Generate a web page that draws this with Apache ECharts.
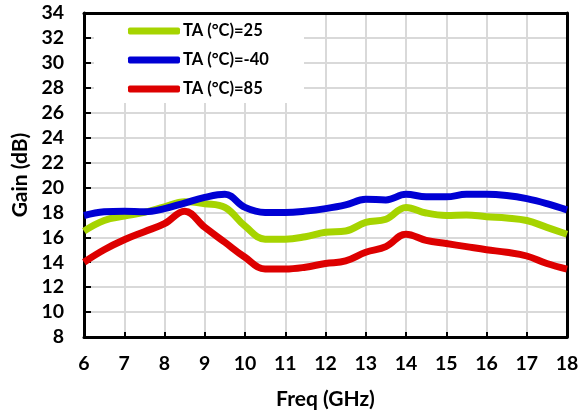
<!DOCTYPE html>
<html>
<head>
<meta charset="utf-8">
<script src="https://cdn.jsdelivr.net/npm/echarts@6/dist/echarts.min.js"></script>
<style>
  html, body { margin: 0; padding: 0; background: #fff; }
  #chart { width: 588px; height: 417px; }
</style>
</head>
<body>
<div id="chart"></div>
<script>
// frequency points (GHz)
const freq = [6, 6.5, 7, 7.5, 8, 8.5, 9, 9.5, 10, 10.5, 11, 11.5, 12, 12.5, 13, 13.5, 14, 14.5, 15, 15.5, 16, 16.5, 17, 17.5, 18];
// gain (dB) per temperature
const gain25 = [16.5, 17.35, 17.7, 18.0, 18.45, 18.85, 18.7, 18.4, 16.9, 15.85, 15.85, 16.05, 16.4, 16.5, 17.2, 17.45, 18.4, 17.95, 17.75, 17.8, 17.65, 17.55, 17.35, 16.8, 16.25];
const gainM40 = [17.75, 18.05, 18.1, 18.05, 18.3, 18.75, 19.2, 19.45, 18.4, 18.0, 18.0, 18.1, 18.3, 18.6, 19.05, 19.0, 19.45, 19.25, 19.25, 19.45, 19.45, 19.35, 19.1, 18.7, 18.2];
const gain85 = [14.0, 15.0, 15.8, 16.45, 17.1, 18.1, 16.8, 15.6, 14.4, 13.45, 13.45, 13.6, 13.9, 14.1, 14.8, 15.25, 16.25, 15.75, 15.5, 15.25, 15.0, 14.8, 14.5, 13.9, 13.45];
const names = ['TA (°C)=25', 'TA (°C)=-40', 'TA (°C)=85'];

const font = 'Lato';
const pairs = arr => freq.map((f, i) => [f, arr[i]]);

const chart = echarts.init(document.getElementById('chart'));

function lineSeries(name, color, data) {
  return {
    name: name,
    type: 'line',
    smooth: 0.4,
    showSymbol: false,
    lineStyle: { color: color, width: 7 },
    itemStyle: { color: color },
    data: pairs(data)
  };
}

chart.setOption({
  animation: false,
  textStyle: { fontFamily: font },
  grid: { left: 84, right: 21, top: 13, bottom: 80 },
  // white block behind the legend hides the grid lines
  graphic: [{
    type: 'rect',
    z: 1,
    shape: { x: 94, y: 15, width: 210, height: 88 },
    style: { fill: '#fff' }
  }],
  legend: {
    data: names,
    orient: 'vertical',
    left: 128,
    top: 22,
    padding: 0,
    itemGap: 11,
    itemWidth: 52,
    itemHeight: 7,
    icon: 'roundRect',
    textStyle: { fontFamily: font, fontWeight: 'bold', fontSize: 16.5, color: '#000', lineHeight: 18, padding: [0, 0, 0, -2] }
  },
  xAxis: [{
    type: 'value',
    min: 6,
    max: 18,
    interval: 1,
    name: 'Freq (GHz)',
    nameLocation: 'middle',
    nameGap: 52,
    nameTextStyle: { fontFamily: font, fontWeight: 'bold', fontSize: 21, color: '#000' },
    axisLine: { lineStyle: { color: '#000', width: 3 } },
    axisTick: { inside: true, length: 5, lineStyle: { color: '#000', width: 2 } },
    axisLabel: { margin: 17, fontFamily: font, fontWeight: 'bold', fontSize: 19.5, color: '#000' },
    splitLine: { lineStyle: { color: '#d9d9d9', width: 2 } }
  }, {
    type: 'value',
    position: 'top',
    min: 6,
    max: 18,
    axisLine: { show: true, lineStyle: { color: '#000', width: 3 } },
    axisTick: { show: false },
    axisLabel: { show: false },
    splitLine: { show: false }
  }],
  yAxis: [{
    type: 'value',
    min: 8,
    max: 34,
    interval: 2,
    name: 'Gain (dB)',
    nameLocation: 'middle',
    nameGap: 48,
    nameTextStyle: { fontFamily: font, fontWeight: 'bold', fontSize: 21, color: '#000' },
    axisLine: { show: true, lineStyle: { color: '#000', width: 3 } },
    axisTick: { show: true, inside: true, length: 7, lineStyle: { color: '#000', width: 2 } },
    axisLabel: { margin: 20, fontFamily: font, fontWeight: 'bold', fontSize: 19.5, color: '#000' },
    splitLine: { lineStyle: { color: '#d9d9d9', width: 2 } }
  }, {
    type: 'value',
    position: 'right',
    min: 8,
    max: 34,
    axisLine: { show: true, lineStyle: { color: '#000', width: 3 } },
    axisTick: { show: false },
    axisLabel: { show: false },
    splitLine: { show: false }
  }],
  series: [
    lineSeries(names[0], '#a6d400', gain25),
    lineSeries(names[2], '#dd0000', gain85),
    lineSeries(names[1], '#0000d4', gainM40)
  ]
});
</script>
</body>
</html>
